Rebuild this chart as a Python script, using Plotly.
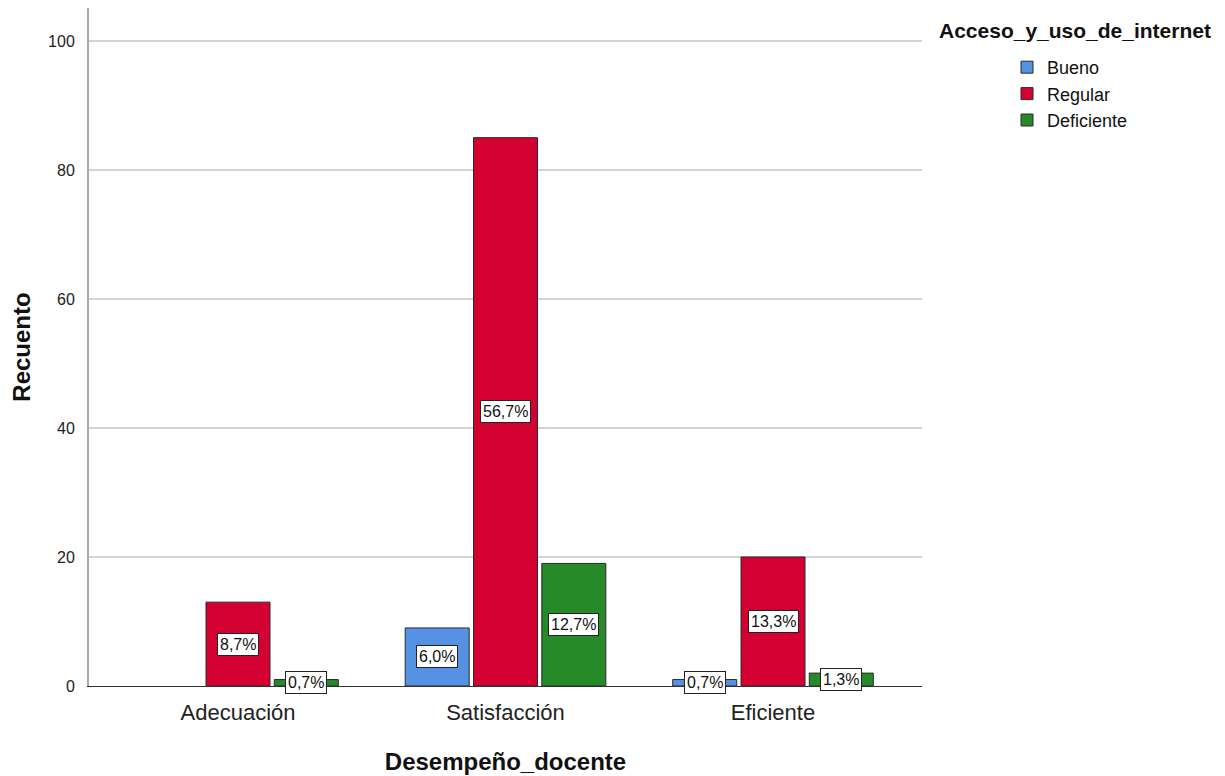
import plotly.graph_objects as go

categories = ["Adecuación", "Satisfacción", "Eficiente"]
series_names = ["Bueno", "Regular", "Deficiente"]
bueno = [0, 9, 1]
regular = [13, 85, 20]
deficiente = [1, 19, 2]
bueno_pct = ["", "6,0%", "0,7%"]
regular_pct = ["8,7%", "56,7%", "13,3%"]
deficiente_pct = ["0,7%", "12,7%", "1,3%"]

colors = ["#5592e4", "#d50032", "#278a28"]
FONT = "Liberation Sans, Arial, sans-serif"

values = [bueno, regular, deficiente]
pcts = [bueno_pct, regular_pct, deficiente_pct]

# page body has an 8px margin; plot area in page coords: x 89..922, y 8..686
W, H = 1217, 768
L, T = 81, 0
PW, PH = 833, 678

def px(xp):  # page x -> paper
    return (xp - 8 - L) / PW

def py(yp):  # page y -> paper
    return (T + PH - (yp - 8)) / PH

bargap = 0.234
fig = go.Figure()
for name, vals, col in zip(series_names, values, colors):
    fig.add_trace(go.Bar(
        x=categories, y=[v if v else None for v in vals], name=name,
        marker=dict(color=col, line=dict(color="#2a2a2a", width=1)),
    ))

slot = (1 - bargap) / 3
for j, (vals, labs) in enumerate(zip(values, pcts)):
    for i, (v, lab) in enumerate(zip(vals, labs)):
        if not lab:
            continue
        fig.add_annotation(
            x=i + (j - 1) * slot, y=v / 2, xref="x", yref="y",
            text=lab, showarrow=False,
            font=dict(family=FONT, size=16, color="#111"),
            bgcolor="white", bordercolor="#222", borderwidth=1, borderpad=2,
        )

fig.update_layout(
    width=W, height=H,
    margin=dict(l=L, r=W - L - PW, t=T, b=H - T - PH, autoexpand=False),
    paper_bgcolor="white", plot_bgcolor="white",
    barmode="group", bargap=bargap, bargroupgap=0.063,
    font=dict(family=FONT, color="#111"),
    showlegend=True,
    legend=dict(
        x=px(1007), y=py(49), xanchor="left", yanchor="top",
        font=dict(family=FONT, size=18, color="#111"),
        itemwidth=30, tracegroupgap=0,
        bgcolor="rgba(0,0,0,0)",
    ),
    xaxis=dict(
        type="category", range=[-0.557, 2.557],
        showline=True, linecolor="#333", linewidth=1,
        showgrid=False, ticks="", ticklabelstandoff=7,
        tickfont=dict(family=FONT, size=22, color="#222"),
        title=dict(text="<b>Desempeño_docente</b>", font=dict(family=FONT, size=24, color="#111"), standoff=28),
    ),
    yaxis=dict(
        range=[0, 105.1], tickvals=[0, 20, 40, 60, 80, 100],
        showline=True, linecolor="#a8a8a8", linewidth=2,
        showgrid=True, gridcolor="#d4d4d4", gridwidth=1.5,
        zeroline=False, ticks="", ticklabelstandoff=9,
        tickfont=dict(family=FONT, size=16, color="#222"),
        title=dict(text="<b>Recuento</b>", font=dict(family=FONT, size=24, color="#111"), standoff=16),
    ),
)

fig.add_annotation(
    xref="paper", yref="paper", x=px(1075), y=py(31),
    text="<b>Acceso_y_uso_de_internet</b>", showarrow=False,
    font=dict(family=FONT, size=21, color="#111"), xanchor="center", yanchor="middle",
)

fig.write_html("out.html")
